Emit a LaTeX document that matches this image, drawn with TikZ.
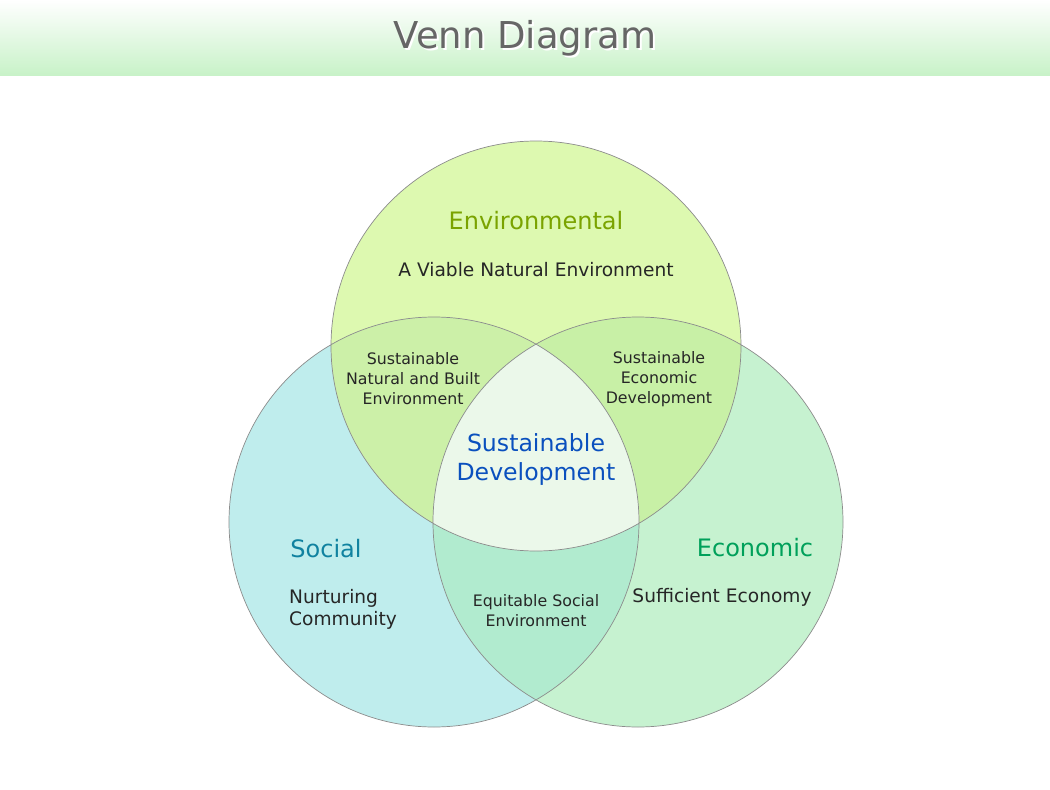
\documentclass[tikz,border=0pt]{standalone}
\usepackage{fontspec}
\setmainfont{DejaVu Sans}
\begin{document}
\begin{tikzpicture}[x=1pt,y=-1pt,
  lbl/.style={align=center,font=\fontsize{15.8}{20}\selectfont,text=black!85},
  big/.style={align=center,font=\fontsize{18.6}{22}\selectfont,text=black!85},
  head/.style={font=\fontsize{24}{28}\selectfont}]
\useasboundingbox (0,0) rectangle (1050,790);
\fill[white] (0,0) rectangle (1050,790);
\shade[top color=white, bottom color={rgb,255:red,200;green,242;blue,200}] (0,0) rectangle (1050,75);
\def\rad{205}
\coordinate (T) at (536,346);
\coordinate (L) at (434,522);
\coordinate (R) at (638,522);
\fill[fill={rgb,255:red,221;green,249;blue,176}] (T) circle (\rad);
\fill[fill={rgb,255:red,191;green,237;blue,237}] (L) circle (\rad);
\fill[fill={rgb,255:red,198;green,242;blue,208}] (R) circle (\rad);
\begin{scope}\clip (T) circle (\rad);
 \fill[fill={rgb,255:red,204;green,240;blue,168}] (L) circle (\rad);
 \fill[fill={rgb,255:red,200;green,240;blue,166}] (R) circle (\rad);
\end{scope}
\begin{scope}\clip (L) circle (\rad);
 \fill[fill={rgb,255:red,177;green,235;blue,207}] (R) circle (\rad);
 \clip (R) circle (\rad);
 \fill[fill={rgb,255:red,235;green,248;blue,234}] (T) circle (\rad);
\end{scope}
\draw[gray!90,line width=0.7pt] (T) circle (\rad) (L) circle (\rad) (R) circle (\rad);
\node[font=\fontsize{37}{42}\selectfont,text=white] (ts) at (527,40) {Venn Diagram};
\node[font=\fontsize{37}{42}\selectfont,text=black!60] (t) at (525,38) {Venn Diagram};
\node[head,text={rgb,255:red,122;green,163;blue,0}] (env) at (536,221) {Environmental};
\node[big] (envt) at (536,270) {A Viable Natural Environment};
\node[head,text={rgb,255:red,16;green,130;blue,160}] (soc) at (326,549) {Social};
\node[big,align=left] (soct) at (343,609) {Nurturing\\Community};
\node[head,text={rgb,255:red,0;green,160;blue,90}] (eco) at (755,548) {Economic};
\node[big] (ecot) at (722,597) {Sufficient Economy};
\node[lbl] (nb) at (413,379) {Sustainable\\Natural and Built\\Environment};
\node[lbl] (ed) at (659,379) {Sustainable\\Economic\\Development};
\node[lbl] (es) at (536,611) {Equitable Social\\Environment};
\node[align=center,font=\fontsize{23.6}{29}\selectfont,text={rgb,255:red,10;green,80;blue,190}] (sd) at (536,459) {Sustainable\\Development};
\end{tikzpicture}
\end{document}
